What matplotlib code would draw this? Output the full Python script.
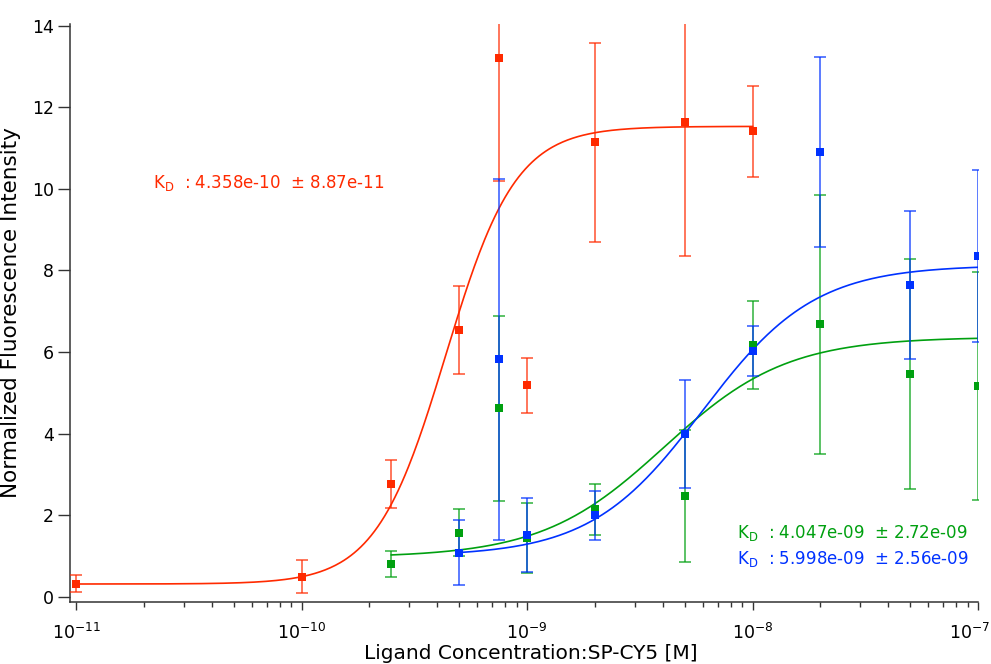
import numpy as np
import matplotlib
matplotlib.use('Agg')
import matplotlib.pyplot as plt
import matplotlib.transforms as mtransforms
from matplotlib.ticker import LogLocator, FixedLocator, NullFormatter, FuncFormatter

plt.rcParams['font.family'] = ['DejaVu Sans']
plt.rcParams['mathtext.default'] = 'regular'

# ligand concentration [M], normalized intensity, error
conc_red = [1e-11, 1e-10, 2.5e-10, 5e-10, 7.5e-10, 1e-9, 2e-9, 5e-9, 1e-8]
fi_red = [0.33, 0.50, 2.76, 6.54, 13.2, 5.19, 11.14, 11.64, 11.41]
err_red = [0.20, 0.41, 0.59, 1.08, 3.00, 0.67, 2.44, 3.29, 1.11]

conc_grn = [2.5e-10, 5e-10, 7.5e-10, 1e-9, 2e-9, 5e-9, 1e-8, 2e-8, 5e-8, 1e-7]
fi_grn = [0.82, 1.58, 4.62, 1.45, 2.15, 2.47, 6.17, 6.68, 5.47, 5.18]
err_grn = [0.32, 0.57, 2.26, 0.85, 0.62, 1.62, 1.08, 3.17, 2.82, 2.79]

conc_blu = [5e-10, 7.5e-10, 1e-9, 2e-9, 5e-9, 1e-8, 2e-8, 5e-8, 1e-7]
fi_blu = [1.09, 5.82, 1.52, 2.00, 4.00, 6.03, 10.91, 7.64, 8.35]
err_blu = [0.80, 4.43, 0.91, 0.59, 1.32, 0.62, 2.33, 1.82, 2.11]

# fit results: KD, KD error, baseline, plateau, hill coefficient
kd_red, kd_err_red, lo_red, hi_red, n_red = 4.358e-10, 8.87e-11, 0.32, 11.53, 2.8
kd_grn, kd_err_grn, lo_grn, hi_grn, n_grn = 4.047e-09, 2.72e-09, 0.97, 6.37, 1.6
kd_blu, kd_err_blu, lo_blu, hi_blu, n_blu = 5.998e-09, 2.56e-09, 1.00, 8.13, 1.75

RED = '#ff2a00'
GRN = '#00a010'
BLU = '#0032ff'


def hill(x, kd, lo, hi, n):
    return lo + (hi - lo) * x**n / (kd**n + x**n)


fig = plt.figure(figsize=(9.91, 6.64), dpi=100)
ax = fig.add_axes([0.0706, 0.0934, 0.9164, 0.8712])

sets = [
    (conc_red, fi_red, err_red, kd_red, lo_red, hi_red, n_red, RED),
    (conc_grn, fi_grn, err_grn, kd_grn, lo_grn, hi_grn, n_grn, GRN),
    (conc_blu, fi_blu, err_blu, kd_blu, lo_blu, hi_blu, n_blu, BLU),
]
for i, (cx, fy, ey, kd, lo, hi, n, col) in enumerate(sets):
    xs = np.logspace(np.log10(cx[0]), np.log10(cx[-1]), 400)
    ax.plot(xs, hill(xs, kd, lo, hi, n), color=col, lw=1.2, zorder=3 + i)
    ax.errorbar(cx, fy, yerr=ey, fmt='none', ecolor=col, elinewidth=1.2,
                capsize=4.6, capthick=1.2, alpha=0.75, zorder=3 + i)
    ax.plot(cx, fy, 's', color=col, ms=6, mew=0, zorder=6 + i)

ax.set_xscale('log')
ax.set_xlim(10**-11.027, 1e-7)
ax.set_ylim(-0.12, 14.05)

ax.xaxis.set_major_locator(FixedLocator([1e-11, 1e-10, 1e-9, 1e-8, 1e-7]))
ax.xaxis.set_major_formatter(FuncFormatter(lambda v, p: '$10^{%d}$' % round(np.log10(v))))
ax.xaxis.set_minor_locator(LogLocator(base=10, subs=np.arange(2, 10), numticks=20))
ax.xaxis.set_minor_formatter(NullFormatter())
ax.set_yticks([0, 2, 4, 6, 8, 10, 12, 14])

for s in ['top', 'right']:
    ax.spines[s].set_visible(False)
for s in ['left', 'bottom']:
    ax.spines[s].set_linewidth(1.1)
    ax.spines[s].set_color('#333333')

ax.tick_params(axis='x', which='major', direction='out', length=6, width=1, pad=9,
               labelsize=12.5, color='#333333')
ax.tick_params(axis='x', which='minor', direction='out', length=3.6, width=1, color='#333333')
ax.tick_params(axis='y', which='major', direction='out', length=8.4, width=1, pad=3,
               labelsize=12.5, color='#333333')

# keep the last decade label inside the figure edge
last = ax.get_xticklabels()[-1]
last.set_transform(last.get_transform() +
                   mtransforms.ScaledTranslation(-6 / 72, 0, fig.dpi_scale_trans))

fig.text(0.536, 0.008, 'Ligand Concentration:SP-CY5 [M]', fontsize=14.5,
         ha='center', va='baseline')
ax.set_ylabel('Normalized Fluorescence Intensity', fontsize=15.5, labelpad=4)
ax.yaxis.set_label_coords(-0.054, 0.5)

ax.text(0.091, 0.725, 'K$_D$  : %.3e  ± %.2e' % (kd_red, kd_err_red),
        transform=ax.transAxes, color=RED, fontsize=12, va='center')
ax.text(0.735, 0.119, 'K$_D$  : %.3e  ± %.2e' % (kd_grn, kd_err_grn),
        transform=ax.transAxes, color=GRN, fontsize=12, va='center')
ax.text(0.735, 0.075, 'K$_D$  : %.3e  ± %.2e' % (kd_blu, kd_err_blu),
        transform=ax.transAxes, color=BLU, fontsize=12, va='center')

fig.savefig('out.png', dpi=100)
